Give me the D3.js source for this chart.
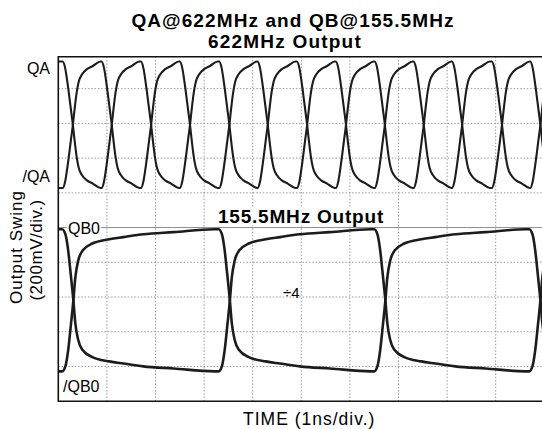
<!DOCTYPE html>
<html><head><meta charset="utf-8">
<script src="https://cdn.jsdelivr.net/npm/d3@7"></script>
<style>
html,body{margin:0;padding:0;background:#fff;}
svg{display:block;font-family:"Liberation Sans",Arial,Helvetica,sans-serif;}
</style></head>
<body>
<svg id="chart" width="542" height="429"></svg>
<script>
// ---------- data (time in ns, amplitude in divisions from the centre line) ----------
const titleLines = ["QA@622MHz and QB@155.5MHz", "622MHz Output"];
const subTitle2 = "155.5MHz Output";
const xAxisTitle = "TIME (1ns/div.)";
const yAxisTitle = ["Output Swing", "(200mV/div.)"];
const traceLabels = ["QA", "/QA", "QB0", "/QB0"];
const dividerLabel = "÷4";

const timeDivisions = [0, 1, 2, 3, 4, 5, 6, 7, 8, 9, 10];
const ampDivisions = [-4, -3, -2, -1, 0, 1, 2, 3, 4];

// crossing times of the 622MHz pair and of the 155.5MHz pair (ns)
const qaCrossings = [0.30, 1.10, 1.91, 2.71, 3.52, 4.31, 5.12, 5.92, 6.72, 7.52, 8.31, 9.13, 9.92];
const qbCrossings = [0.31, 3.53, 6.73, 9.92];

// settled levels (div)
const qaLevels = { low: 1.14, high: 4.78 };
const qbLevels = { low: -4.14, high: -0.05 };

// edge shape: [time from crossing (ns), fraction of the swing done]
const qaEdgeShape = [[-0.21, 0], [-0.16, 0.05], [-0.10, 0.2], [-0.04, 0.38], [0, 0.5], [0.04, 0.64],
  [0.08, 0.76], [0.12, 0.84], [0.19, 0.9], [0.29, 0.94], [0.41, 0.965], [0.57, 1]];
const qbEdgeShape = [[-0.23, 0], [-0.16, 0.04], [-0.11, 0.14], [-0.05, 0.33], [0, 0.5], [0.04, 0.66],
  [0.10, 0.78], [0.19, 0.85], [0.39, 0.9], [0.74, 0.93], [1.03, 0.945], [1.44, 0.965], [2.06, 0.98], [2.9, 1]];

// ---------- layout ----------
const svg = d3.select("#chart");
const L = 58.3, R = 544.3, T = 56.7, B = 401.2;
const x = d3.scaleLinear().domain([0, 10]).range([L, R]);
const y = d3.scaleLinear().domain([-5, 4.92]).range([B, T]);

const defs = svg.append("defs");
defs.append("clipPath").attr("id", "clip").append("rect")
  .attr("x", L).attr("y", T).attr("width", R - L).attr("height", B - T);

// grid
const grid = svg.append("g");
grid.selectAll(".vg").data(timeDivisions.slice(1, -1)).join("line")
  .attr("x1", d => x(d)).attr("x2", d => x(d)).attr("y1", T).attr("y2", B)
  .attr("stroke", "#9a9a9a").attr("stroke-width", 1).attr("stroke-dasharray", "1.5,1.8");
grid.selectAll(".hg").data(ampDivisions.filter(d => d !== 0)).join("line")
  .attr("x1", L).attr("x2", R).attr("y1", d => y(d)).attr("y2", d => y(d))
  .attr("stroke", "#9a9a9a").attr("stroke-width", 1).attr("stroke-dasharray", "1.5,1.8");
grid.append("line").attr("x1", L).attr("x2", R).attr("y1", y(0)).attr("y2", y(0))
  .attr("stroke", "#8c8c8c").attr("stroke-width", 1);

// traces
function buildTrace(startLevel, otherLevel, crossings, shape) {
  const pts = [[0, startLevel]];
  let from = startLevel, to = otherLevel;
  crossings.forEach(c => {
    shape.forEach(([dt, f]) => pts.push([c + dt, from + (to - from) * f]));
    [from, to] = [to, from];
  });
  pts.push([10.3, from]);
  return pts;
}
const line = d3.line().x(d => x(d[0])).y(d => y(d[1])).curve(d3.curveMonotoneX);
const traces = [
  { pts: buildTrace(qaLevels.high, qaLevels.low, qaCrossings, qaEdgeShape), w: 2.1 },
  { pts: buildTrace(qaLevels.low, qaLevels.high, qaCrossings, qaEdgeShape), w: 2.1 },
  { pts: buildTrace(qbLevels.high, qbLevels.low, qbCrossings, qbEdgeShape), w: 2.6 },
  { pts: buildTrace(qbLevels.low, qbLevels.high, qbCrossings, qbEdgeShape), w: 2.6 }
];
svg.append("g").attr("clip-path", "url(#clip)")
  .selectAll("path").data(traces).join("path")
  .attr("d", d => line(d.pts)).attr("fill", "none")
  .attr("stroke", "#1c1c1c").attr("stroke-width", d => d.w)
  .attr("stroke-linejoin", "round");

// frame
svg.append("path")
  .attr("d", `M${R},${T}H${L}V${B}H${R}`)
  .attr("fill", "none").attr("stroke", "#111").attr("stroke-width", 1.6);

// labels with white background
function bgText(txt, px, py, size, weight, anchor, spacing) {
  const g = svg.append("g");
  const t = g.append("text").attr("x", px).attr("y", py).attr("font-size", size)
    .attr("font-weight", weight).attr("text-anchor", anchor).attr("fill", "#000")
    .attr("letter-spacing", spacing || 0).text(txt);
  const bb = t.node().getBBox();
  g.insert("rect", "text").attr("x", bb.x - 1).attr("y", bb.y + 1).attr("width", bb.width + 2)
    .attr("height", bb.height - 2).attr("fill", "#fff");
  return t;
}

// titles
svg.append("text").attr("x", 293).attr("y", 26.5).attr("text-anchor", "middle")
  .attr("font-size", 19).attr("font-weight", "bold").attr("letter-spacing", 1.1).text(titleLines[0]);
svg.append("text").attr("x", 285).attr("y", 47.8).attr("text-anchor", "middle")
  .attr("font-size", 19).attr("font-weight", "bold").attr("letter-spacing", 1.2).text(titleLines[1]);
bgText(subTitle2, 301, 222.7, 19, "bold", "middle", 0.8);

// trace labels
svg.append("text").attr("x", 50).attr("y", 74).attr("text-anchor", "end")
  .attr("font-size", 16).text(traceLabels[0]);
svg.append("text").attr("x", 50).attr("y", 182).attr("text-anchor", "end")
  .attr("font-size", 16).text(traceLabels[1]);
bgText(traceLabels[2], 68, 233.5, 16, "normal", "start");
bgText(traceLabels[3], 63, 392, 16, "normal", "start");
svg.append("text").attr("x", 283).attr("y", 297.5).attr("font-size", 15).text(dividerLabel);

// axis titles
svg.append("text").attr("transform", "translate(22,247) rotate(-90)").attr("text-anchor", "middle")
  .attr("font-size", 17).attr("letter-spacing", 1).text(yAxisTitle[0]);
svg.append("text").attr("transform", "translate(41.5,250) rotate(-90)").attr("text-anchor", "middle")
  .attr("font-size", 17).attr("letter-spacing", 0.5).text(yAxisTitle[1]);
svg.append("text").attr("x", 243).attr("y", 425).attr("text-anchor", "start")
  .attr("font-size", 17.5).attr("letter-spacing", 1).text(xAxisTitle);
</script>
</body></html>
